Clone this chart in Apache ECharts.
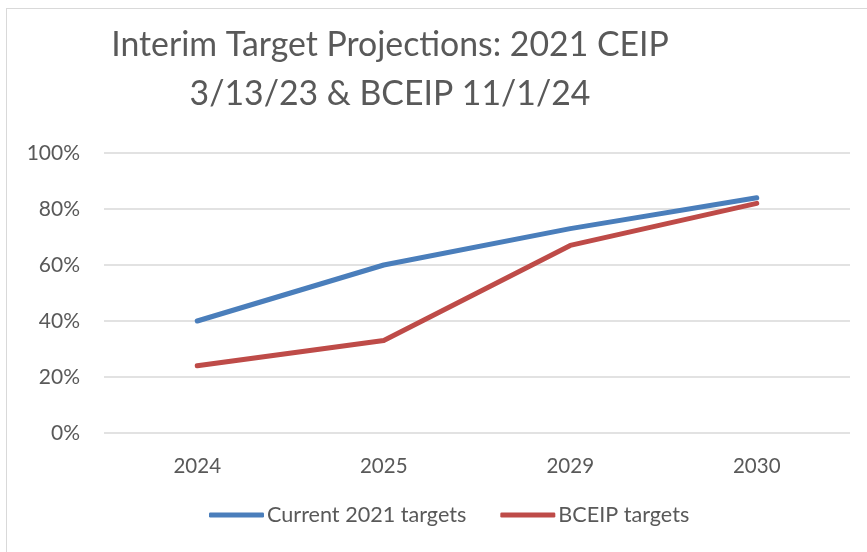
<!DOCTYPE html>
<html>
<head>
<meta charset="utf-8">
<script src="https://cdn.jsdelivr.net/npm/echarts@6/dist/echarts.min.js"></script>
<style>
  html, body { margin: 0; padding: 0; background: #fff; }
  #ct-container { width: 867px; height: 552px; }
  .frame { position: absolute; left: 6px; top: 8px; width: 900px; height: 600px; border: 1px solid #d9d9d9; pointer-events: none; }
</style>
</head>
<body>
<div id="ct-container"></div>
<div class="frame"></div>
<script>
var years = ['2024', '2025', '2029', '2030']
var currentTargets = [40, 60, 73, 84]
var bceipTargets = [24, 33, 67, 82]
var yTicks = [0, 20, 40, 60, 80, 100]

var fontFam = 'Lato, "Open Sans", sans-serif'
var chart = echarts.init(document.getElementById('ct-container'))

var opt = {
  animation: false,
  textStyle: { fontFamily: fontFam },
  title: {
    text: 'Interim Target Projections: 2021 CEIP\n3/13/23 & BCEIP 11/1/24',
    left: 385,
    top: 16,
    textAlign: 'center',
    textStyle: {
      fontFamily: fontFam,
      fontSize: 33.8,
      fontWeight: 'normal',
      color: '#595959',
      lineHeight: 49,
      align: 'center'
    }
  },
  legend: {
    bottom: 21,
    left: 204,
    itemWidth: 55,
    itemHeight: 5,
    itemGap: 34,
    icon: 'roundRect',
    textStyle: { fontFamily: fontFam, fontSize: 21.6, color: '#595959', padding: [0, 0, 0, -2] },
    data: ['Current 2021 targets', 'BCEIP targets']
  },
  grid: {
    left: 104,
    right: 17,
    top: 153,
    bottom: 119
  },
  xAxis: {
    type: 'category',
    data: years,
    boundaryGap: true,
    axisLine: { show: false },
    axisTick: { show: false },
    axisLabel: { fontFamily: fontFam, fontSize: 20.5, color: '#595959', margin: 23 }
  },
  yAxis: {
    type: 'value',
    min: 0,
    max: yTicks[yTicks.length - 1],
    interval: 20,
    axisLine: { show: false },
    axisTick: { show: false },
    axisLabel: {
      fontFamily: fontFam, fontSize: 21, color: '#595959', margin: 24,
      formatter: function (v) { return v + '%' }
    },
    splitLine: { lineStyle: { color: '#d9d9d9', width: 1.5 } }
  },
  series: [{
    name: 'Current 2021 targets',
    type: 'line',
    data: currentTargets,
    symbol: 'none',
    color: '#4a7ebb',
    lineStyle: { width: 5, cap: 'round', join: 'round', color: '#4a7ebb' }
  }, {
    name: 'BCEIP targets',
    type: 'line',
    data: bceipTargets,
    symbol: 'none',
    color: '#be4b48',
    lineStyle: { width: 5, cap: 'round', join: 'round', color: '#be4b48' }
  }]
}

chart.setOption(opt)
</script>
</body>
</html>
